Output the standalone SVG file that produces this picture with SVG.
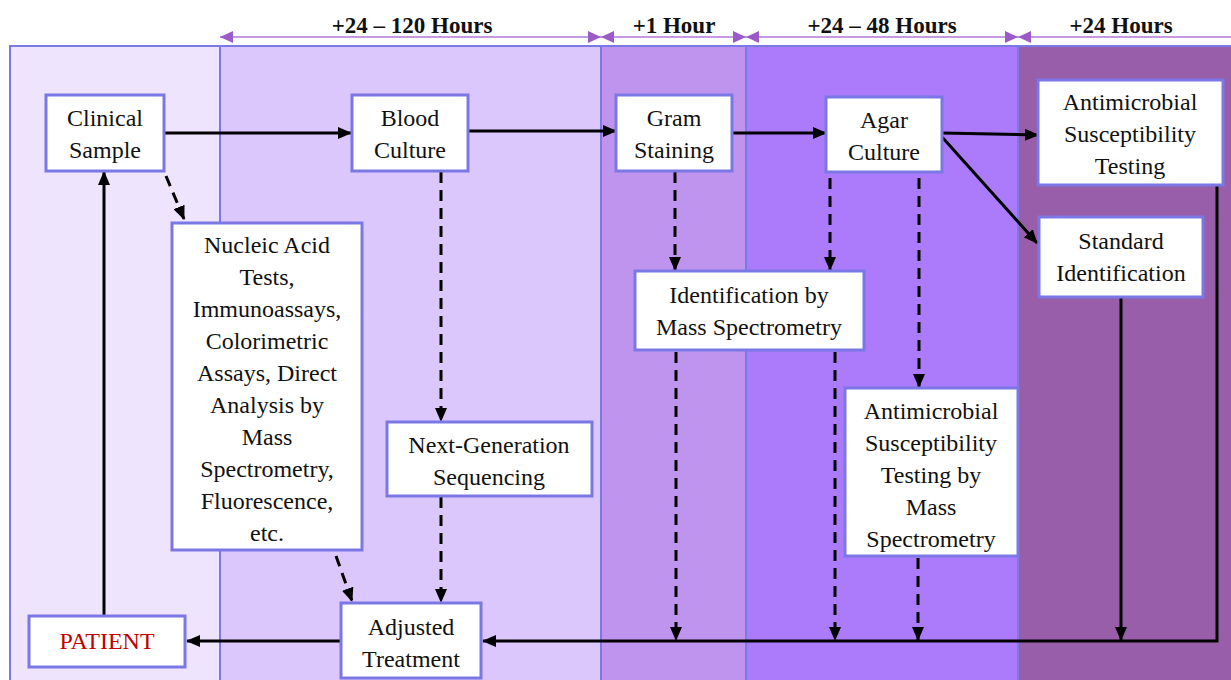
<svg xmlns="http://www.w3.org/2000/svg" width="1231" height="680" viewBox="0 0 1231 680">
<style>
.band{stroke:#7B7AE4;stroke-width:2}
.box{fill:#ffffff;stroke:#7B78E6;stroke-width:3}
.t{font-family:"Times New Roman","Liberation Serif",Tinos,"Nimbus Roman","Noto Serif","DejaVu Serif",serif;font-size:24px;fill:#111;text-anchor:middle}
.h{font-family:"Times New Roman","Liberation Serif",Tinos,"Nimbus Roman","Noto Serif","DejaVu Serif",serif;font-size:23px;font-weight:bold;fill:#111;text-anchor:middle}
.hl{stroke:#C49BE2;stroke-width:2;fill:none}
.ha{fill:#9B5CC8}
.c{stroke:#000;stroke-width:3;fill:none}
.d{stroke:#000;stroke-width:3;fill:none;stroke-dasharray:11 7}
</style>
<defs>
<marker id="ah" markerWidth="14" markerHeight="12" refX="13" refY="6" orient="auto" markerUnits="userSpaceOnUse">
<path d="M0,0 L14,6 L0,12 z" fill="#000"/>
</marker>
</defs>
<rect width="1231" height="680" fill="#ffffff"/>
<g id="bands">
<rect class="band" x="10" y="46" width="210" height="640" fill="#EFE4FD"/>
<rect class="band" x="220" y="46" width="381" height="640" fill="#DCC7FD"/>
<rect class="band" x="601" y="46" width="145" height="640" fill="#BF94EE"/>
<rect class="band" x="746" y="46" width="272" height="640" fill="#AB7BFC"/>
<rect class="band" x="1018" y="46" width="220" height="640" fill="#995EA9" stroke-width="3"/>
</g>
<g id="header">
<line class="hl" x1="220" y1="37" x2="1231" y2="37"/>
<path class="ha" d="M220,37 L233,31 L233,43 z"/>
<path class="ha" d="M601,37 L588,31 L588,43 z"/>
<path class="ha" d="M601,37 L614,31 L614,43 z"/>
<path class="ha" d="M746,37 L733,31 L733,43 z"/>
<path class="ha" d="M746,37 L759,31 L759,43 z"/>
<path class="ha" d="M1018,37 L1005,31 L1005,43 z"/>
<path class="ha" d="M1018,37 L1031,31 L1031,43 z"/>
<text class="h" x="412" y="33">+24 – 120 Hours</text>
<text class="h" x="674" y="33">+1 Hour</text>
<text class="h" x="882" y="33">+24 – 48 Hours</text>
<text class="h" x="1121" y="33">+24 Hours</text>
</g>
<g id="connectors">
<path class="c" d="M164,133 H351" marker-end="url(#ah)"/>
<path class="c" d="M468,131 H616" marker-end="url(#ah)"/>
<path class="c" d="M732,133 H826" marker-end="url(#ah)"/>
<path class="c" d="M942,133 L1038,135" marker-end="url(#ah)"/>
<path class="c" d="M942,137 L1037,243" marker-end="url(#ah)"/>
<path class="d" d="M166,176 L184,219" marker-end="url(#ah)"/>
<path class="d" d="M441,172 V421" marker-end="url(#ah)"/>
<path class="d" d="M441,497 V602" marker-end="url(#ah)"/>
<path class="d" d="M336,556 L352,601" marker-end="url(#ah)"/>
<path class="d" d="M675,172 V270" marker-end="url(#ah)"/>
<path class="d" d="M830,178 V270" marker-end="url(#ah)"/>
<path class="d" d="M919,178 V387" marker-end="url(#ah)"/>
<path class="d" d="M676,352 V640" marker-end="url(#ah)"/>
<path class="d" d="M835,352 V640" marker-end="url(#ah)"/>
<path class="d" d="M918,558 V640" marker-end="url(#ah)"/>
<path class="c" d="M1121,297 V640" marker-end="url(#ah)"/>
<path class="c" d="M1217,185 V641 H483" marker-end="url(#ah)"/>
<path class="c" d="M341,641 H187" marker-end="url(#ah)"/>
<path class="c" d="M104,616 V172" marker-end="url(#ah)"/>
</g>
<g id="clinical-sample">
<rect class="box" x="46" y="95" width="118" height="76"/>
<text class="t" x="105" y="126">Clinical</text>
<text class="t" x="105" y="158">Sample</text>
</g>
<g id="blood-culture">
<rect class="box" x="352" y="95" width="116" height="76"/>
<text class="t" x="410" y="126">Blood</text>
<text class="t" x="410" y="158">Culture</text>
</g>
<g id="gram-staining">
<rect class="box" x="616" y="95" width="116" height="76"/>
<text class="t" x="674" y="126">Gram</text>
<text class="t" x="674" y="158">Staining</text>
</g>
<g id="agar-culture">
<rect class="box" x="826" y="97" width="116" height="75"/>
<text class="t" x="884" y="128">Agar</text>
<text class="t" x="884" y="160">Culture</text>
</g>
<g id="ast">
<rect class="box" x="1038" y="80" width="185" height="105"/>
<text class="t" x="1130" y="110">Antimicrobial</text>
<text class="t" x="1130" y="142">Susceptibility</text>
<text class="t" x="1130" y="174">Testing</text>
</g>
<g id="standard-identification">
<rect class="box" x="1039" y="217" width="164" height="80"/>
<text class="t" x="1121" y="249">Standard</text>
<text class="t" x="1121" y="281">Identification</text>
</g>
<g id="nucleic-acid-tests">
<rect class="box" x="172" y="223" width="190" height="327"/>
<text class="t" x="267" y="253">Nucleic Acid</text>
<text class="t" x="267" y="285">Tests,</text>
<text class="t" x="267" y="317">Immunoassays,</text>
<text class="t" x="267" y="349">Colorimetric</text>
<text class="t" x="267" y="381">Assays, Direct</text>
<text class="t" x="267" y="413">Analysis by</text>
<text class="t" x="267" y="445">Mass</text>
<text class="t" x="267" y="477">Spectrometry,</text>
<text class="t" x="267" y="509">Fluorescence,</text>
<text class="t" x="267" y="541">etc.</text>
</g>
<g id="id-mass-spec">
<rect class="box" x="635" y="271" width="229" height="79"/>
<text class="t" x="749" y="303">Identification by</text>
<text class="t" x="749" y="335">Mass Spectrometry</text>
</g>
<g id="ngs">
<rect class="box" x="387" y="422" width="205" height="74"/>
<text class="t" x="489" y="453">Next-Generation</text>
<text class="t" x="489" y="485">Sequencing</text>
</g>
<g id="ast-mass-spec">
<rect class="box" x="845" y="388" width="173" height="168"/>
<text class="t" x="931" y="419">Antimicrobial</text>
<text class="t" x="931" y="451">Susceptibility</text>
<text class="t" x="931" y="483">Testing by</text>
<text class="t" x="931" y="515">Mass</text>
<text class="t" x="931" y="547">Spectrometry</text>
</g>
<g id="patient">
<rect class="box" x="29" y="616" width="156" height="51"/>
<text class="t" x="107" y="649" style="fill:#C00000">PATIENT</text>
</g>
<g id="adjusted-treatment">
<rect class="box" x="341" y="603" width="140" height="75"/>
<text class="t" x="411" y="635">Adjusted</text>
<text class="t" x="411" y="667">Treatment</text>
</g>
</svg>
